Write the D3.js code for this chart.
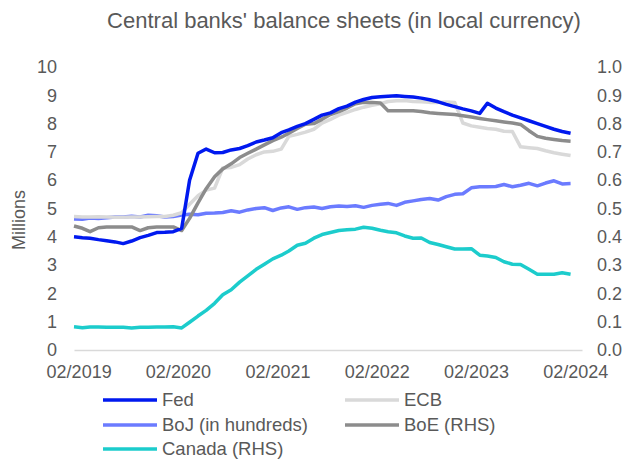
<!DOCTYPE html>
<html>
<head>
<meta charset="utf-8">
<script src="https://cdn.jsdelivr.net/npm/d3@7"></script>
<style>
  body { margin: 0; background: #fff; }
  text { font-family: "Liberation Sans", Arial, sans-serif; fill: #595959; }
</style>
</head>
<body>
<div id="chart"></div>
<script>
// monthly observations, mid-Jan 2019 .. mid-Jan 2024 (61 points)
const firstObs = new Date(2019, 0, 15);
const axisEnd = new Date(2024, 1, 26);
const months = d3.timeMonth.range(new Date(2019, 0, 1), new Date(2024, 1, 1))
  .map(d => new Date(d.getFullYear(), d.getMonth(), 15));
const tickDates = [2019, 2020, 2021, 2022, 2023, 2024].map(y => new Date(y, 1, 1));
const tickLabels = ["02/2019", "02/2020", "02/2021", "02/2022", "02/2023", "02/2024"];

// left axis, millions of millions
const fed = [4.00, 3.97, 3.95, 3.90, 3.86, 3.82, 3.76, 3.85, 3.97, 4.05, 4.15, 4.16, 4.18,
  4.30, 6.00, 6.95, 7.10, 6.97, 6.98, 7.07, 7.12, 7.22, 7.35, 7.42, 7.50, 7.68, 7.78, 7.90,
  8.00, 8.15, 8.30, 8.38, 8.53, 8.62, 8.76, 8.85, 8.92, 8.95, 8.97, 8.98, 8.96, 8.94, 8.90,
  8.84, 8.77, 8.68, 8.60, 8.52, 8.45, 8.36, 8.72, 8.55, 8.42, 8.30, 8.20, 8.10, 8.00, 7.90,
  7.80, 7.72, 7.66];
const ecb = [4.72, 4.70, 4.70, 4.71, 4.70, 4.69, 4.69, 4.70, 4.70, 4.71, 4.72, 4.72, 4.76,
  4.85, 5.15, 5.45, 5.65, 5.72, 6.43, 6.45, 6.55, 6.75, 6.90, 7.00, 7.02, 7.10, 7.55, 7.62,
  7.70, 7.80, 8.02, 8.15, 8.30, 8.40, 8.50, 8.58, 8.65, 8.70, 8.78, 8.81, 8.82, 8.78, 8.77,
  8.75, 8.75, 8.76, 8.75, 8.02, 7.92, 7.87, 7.83, 7.80, 7.73, 7.72, 7.18, 7.15, 7.12, 7.04,
  6.97, 6.92, 6.87];
const boj = [4.63, 4.62, 4.66, 4.65, 4.67, 4.70, 4.70, 4.73, 4.70, 4.76, 4.74, 4.70, 4.72,
  4.77, 4.80, 4.78, 4.83, 4.84, 4.86, 4.92, 4.87, 4.95, 5.00, 5.03, 4.93, 5.02, 5.06, 4.97,
  5.03, 5.05, 5.00, 5.06, 5.09, 5.07, 5.10, 5.04, 5.11, 5.15, 5.18, 5.11, 5.22, 5.27, 5.32,
  5.35, 5.30, 5.42, 5.50, 5.52, 5.73, 5.77, 5.77, 5.78, 5.85, 5.77, 5.82, 5.89, 5.80, 5.90,
  5.98, 5.87, 5.88];
// right axis
const boe = [0.438, 0.430, 0.418, 0.432, 0.435, 0.435, 0.435, 0.435, 0.422, 0.432, 0.435,
  0.435, 0.435, 0.422, 0.465, 0.520, 0.570, 0.612, 0.640, 0.658, 0.680, 0.695, 0.710, 0.725,
  0.740, 0.752, 0.766, 0.783, 0.798, 0.800, 0.815, 0.832, 0.842, 0.855, 0.870, 0.875, 0.875,
  0.873, 0.845, 0.845, 0.845, 0.845, 0.843, 0.838, 0.836, 0.834, 0.832, 0.828, 0.823, 0.818,
  0.814, 0.810, 0.806, 0.802, 0.797, 0.775, 0.755, 0.748, 0.744, 0.740, 0.738];
const canada = [0.082, 0.079, 0.081, 0.081, 0.080, 0.080, 0.080, 0.078, 0.080, 0.080, 0.081,
  0.081, 0.082, 0.078, 0.098, 0.120, 0.140, 0.165, 0.195, 0.213, 0.240, 0.262, 0.285, 0.303,
  0.322, 0.335, 0.350, 0.370, 0.377, 0.395, 0.408, 0.415, 0.422, 0.425, 0.427, 0.434, 0.430,
  0.423, 0.418, 0.414, 0.403, 0.395, 0.396, 0.380, 0.373, 0.365, 0.357, 0.357, 0.358, 0.335,
  0.332, 0.327, 0.312, 0.303, 0.302, 0.285, 0.268, 0.268, 0.268, 0.273, 0.268];

const leftTicks = d3.range(0, 11);
const rightTicks = d3.range(0, 11).map(d => d / 10);

const series = [
  { name: "Fed", values: fed, axis: "left", color: "#0019ef" },
  { name: "ECB", values: ecb, axis: "left", color: "#d9d9d9" },
  { name: "BoJ (in hundreds)", values: boj, axis: "left", color: "#6b7bff" },
  { name: "BoE (RHS)", values: boe, axis: "right", color: "#8c8c8c" },
  { name: "Canada (RHS)", values: canada, axis: "right", color: "#1ccccc" }
];
// draw order: lighter lines underneath
const drawOrder = ["Canada (RHS)", "BoJ (in hundreds)", "ECB", "BoE (RHS)", "Fed"];

const width = 638, height = 459;
const plot = { left: 74, right: 582, top: 67, bottom: 350 };

const x = d3.scaleTime().domain([firstObs, axisEnd]).range([plot.left, plot.right]);
const yL = d3.scaleLinear().domain([0, 10]).range([plot.bottom, plot.top]);
const yR = d3.scaleLinear().domain([0, 1]).range([plot.bottom, plot.top]);

const svg = d3.select("#chart").append("svg")
  .attr("width", width)
  .attr("height", height);

svg.append("text")
  .attr("x", 344)
  .attr("y", 28)
  .attr("text-anchor", "middle")
  .style("font-size", "22px")
  .text("Central banks' balance sheets (in local currency)");

// x axis
const xAxis = svg.append("g")
  .attr("transform", `translate(0, ${plot.bottom})`)
  .call(d3.axisBottom(x).tickValues(tickDates).tickFormat((d, i) => tickLabels[i])
    .tickSize(0).tickSizeOuter(0).tickPadding(15));
xAxis.select(".domain").attr("stroke", "#d9d9d9").attr("stroke-width", 1.5);
xAxis.selectAll("text").style("font-size", "18px").attr("fill", "#595959");

const yAxisL = svg.append("g")
  .attr("transform", `translate(${plot.left}, 0)`)
  .call(d3.axisLeft(yL).tickValues(leftTicks).tickFormat(d3.format("d")).tickSize(0).tickPadding(17));
yAxisL.select(".domain").remove();
yAxisL.selectAll("text").style("font-size", "18px").attr("fill", "#595959");

const yAxisR = svg.append("g")
  .attr("transform", `translate(${plot.right}, 0)`)
  .call(d3.axisRight(yR).tickValues(rightTicks).tickFormat(d3.format(".1f")).tickSize(0).tickPadding(15));
yAxisR.select(".domain").remove();
yAxisR.selectAll("text").style("font-size", "18px").attr("fill", "#595959");

svg.append("text")
  .attr("transform", "translate(25, 220) rotate(-90)")
  .attr("text-anchor", "middle")
  .style("font-size", "18px")
  .text("Millions");

const line = (yScale) => d3.line().x((d, i) => x(months[i])).y(d => yScale(d));

drawOrder.forEach(name => {
  const s = series.find(d => d.name === name);
  svg.append("path")
    .datum(s.values)
    .attr("fill", "none")
    .attr("stroke", s.color)
    .attr("stroke-width", 3.5)
    .attr("stroke-linejoin", "round")
    .attr("d", line(s.axis === "left" ? yL : yR));
});

// legend, two columns
const legendPos = [[103, 400], [345, 400], [103, 425], [345, 425], [103, 449]];
const legend = svg.append("g");
series.forEach((s, i) => {
  const [lx, ly] = legendPos[i];
  legend.append("line")
    .attr("x1", lx).attr("x2", lx + 54)
    .attr("y1", ly).attr("y2", ly)
    .attr("stroke", s.color)
    .attr("stroke-width", 3.5);
  legend.append("text")
    .attr("x", lx + 59)
    .attr("y", ly)
    .attr("dy", "0.35em")
    .style("font-size", "18.5px")
    .text(s.name);
});
</script>
</body>
</html>
